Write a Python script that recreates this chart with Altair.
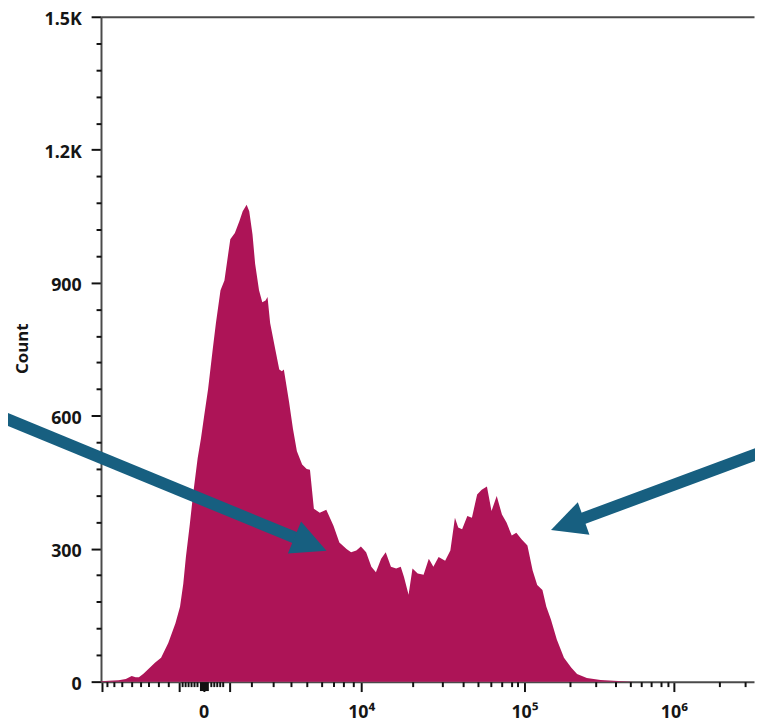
import altair as alt
import pandas as pd

# ---- histogram profile (display channel 0-1000 on a biexponential axis, cell count) ----
channel = [0, 12, 27, 38, 47, 53, 58, 65, 73, 83, 92, 103, 114, 121, 126, 130, 136, 141, 148, 153,
           158, 164, 171, 176, 183, 189, 194, 198, 205, 212, 217, 223, 227, 232, 236, 242, 247, 252,
           255, 259, 267, 273, 277, 280, 288, 294, 300, 308, 315, 320, 326, 335, 345, 356, 365, 376,
           383, 391, 398, 406, 414, 421, 429, 436, 444, 452, 459, 464, 471, 477, 485, 494, 502, 509,
           517, 527, 535, 542, 547, 553, 561, 568, 576, 583, 591, 598, 606, 614, 621, 629, 636, 644,
           653, 661, 668, 676, 682, 689, 698, 709, 720, 729, 744, 765, 785, 815, 1000]
count = [1, 2, 3, 6, 13, 10, 10, 18, 29, 43, 54, 87, 132, 169, 221, 281, 355, 422, 504, 548,
         600, 660, 749, 809, 883, 905, 957, 998, 1012, 1039, 1061, 1076, 1061, 1009, 943, 883, 856, 860,
         868, 809, 749, 704, 700, 704, 631, 570, 520, 490, 480, 478, 390, 381, 388, 352, 314, 299,
         292, 296, 305, 292, 259, 247, 277, 292, 259, 255, 259, 236, 196, 255, 244, 241, 277, 259,
         281, 273, 296, 370, 348, 344, 374, 370, 422, 433, 440, 385, 419, 377, 359, 330, 336, 321,
         307, 251, 218, 207, 169, 140, 95, 54, 32, 17, 8, 4, 2, 0, 0]

# ---- x axis (biexponential) tick positions in display channel units ----
x_major = [1.1, 119.2, 157.1, 196.5, 398.5, 648.5, 877.3]
x_major_labels = ["", "", "0", "", "10⁴", "10⁵", "10⁶"]
x_minor = [9.1, 19.7, 31.8, 47.0, 60.6, 72.7, 87.9, 103.0,
           124.2, 128.8, 133.3, 137.9, 142.4, 147.0, 168.6, 173.2, 177.7, 182.3, 186.8,
           230.3, 263.6, 290.9, 315.2, 337.9, 356.1, 371.2, 386.4,
           476.8, 522.3, 554.5, 577.3, 597.0, 613.2, 628.3, 637.9,
           717.7, 757.6, 787.4, 810.2, 826.8, 842.4, 857.6, 868.2,
           946.5, 986.8]
x_zero = [157.1]

# ---- y axis ----
y_major = [0, 300, 600, 900, 1200, 1500]
y_major_labels = ["0", "300", "600", "900", "1.2K", "1.5K"]
y_minor = [60, 120, 180, 240, 360, 420, 480, 540, 660, 720, 780, 840,
           960, 1020, 1080, 1140, 1260, 1320, 1380, 1440]

# ---- annotation arrows (data units: channel, count) ----
arrow_x_start = [-169.7, 1012.0]
arrow_y_start = [608.0, 518.0]
arrow_x_tip = [320.8, 714.1]
arrow_y_tip = [310.3, 355.1]
arrow_angle = [22.4, 160.4]

FILL = "#AD1457"
ARROW = "#175F80"
FONT = "Noto Sans"


def label_expr(vals, labels):
    expr = "''"
    for v, lab in reversed(list(zip(vals, labels))):
        expr = f"abs(datum.value - {v}) < 0.01 ? '{lab}' : ({expr})"
    return expr


hist = pd.DataFrame({"channel": channel, "count": count})
arrows = pd.DataFrame({"x": arrow_x_start, "y": arrow_y_start,
                       "x2": arrow_x_tip, "y2": arrow_y_tip, "angle": arrow_angle})

xscale = alt.Scale(domain=[0, 1000], nice=False, zero=False)
yscale = alt.Scale(domain=[0, 1500], nice=False, zero=False)

common = dict(domainColor="#4a4a4a", domainWidth=2, tickColor="#111111", tickWidth=2,
              zindex=0, grid=False)

area = alt.Chart(hist).mark_area(color=FILL, interpolate="linear", opacity=1).encode(
    x=alt.X("channel:Q", scale=xscale,
            axis=alt.Axis(orient="bottom", values=x_major, labelExpr=label_expr(x_major, x_major_labels),
                          tickSize=10, labelFont=FONT, labelFontSize=18, labelFontWeight="bold",
                          labelColor="#151515", labelPadding=12, labelFlush=False, labelOverlap=False,
                          labelBound=False, title=None, **common)),
    y=alt.Y("count:Q", scale=yscale,
            axis=alt.Axis(orient="left", values=y_major, labelExpr=label_expr(y_major, y_major_labels),
                          tickSize=10, labelFont=FONT, labelFontSize=18, labelFontWeight="bold",
                          labelColor="#151515", labelPadding=10, labelOverlap=False, labelOffset=3,
                          title="Count", titleFont=FONT, titleFontSize=17, titleFontWeight="bold",
                          titleColor="#151515", titleX=-79, titleY=335, titleAngle=270,
                          titleAlign="center", titleBaseline="middle", **common)),
)

minor = alt.Chart(hist).mark_point(opacity=0).encode(
    x=alt.X("channel:Q", scale=xscale,
            axis=alt.Axis(orient="bottom", values=x_minor, tickSize=5, labels=False,
                          domain=False, title=None, **common)),
    y=alt.Y("count:Q", scale=yscale,
            axis=alt.Axis(orient="left", values=y_minor, tickSize=5, labels=False,
                          domain=False, title=None, **common)),
)

top = alt.Chart(hist).mark_point(opacity=0).encode(
    x=alt.X("channel:Q", scale=xscale,
            axis=alt.Axis(orient="top", ticks=False, labels=False, domain=True,
                          title=None, **common)),
    y=alt.Y("count:Q", scale=yscale, axis=None),
)

zero_common = dict(common)
zero_common["tickWidth"] = 9
zero_block = alt.Chart(hist).mark_point(opacity=0).encode(
    x=alt.X("channel:Q", scale=xscale,
            axis=alt.Axis(orient="bottom", values=x_zero, tickSize=9, labels=False,
                          domain=False, title=None, **zero_common)),
    y=alt.Y("count:Q", scale=yscale, axis=None),
)

shaft = alt.Chart(arrows).mark_rule(color=ARROW, strokeWidth=12, strokeCap="butt").encode(
    x=alt.X("x:Q", scale=xscale, axis=None),
    y=alt.Y("y:Q", scale=yscale, axis=None),
    x2="x2:Q",
    y2="y2:Q",
)

head = alt.Chart(arrows).mark_point(shape="M-1,-1L1,0L-1,1Z", filled=True, size=1225,
                                    color=ARROW, opacity=1, strokeWidth=0).encode(
    x=alt.X("x2:Q", scale=xscale, axis=None),
    y=alt.Y("y2:Q", scale=yscale, axis=None),
    angle=alt.Angle("angle:Q", scale=None),
)

chart = alt.layer(area, minor, top, zero_block, shaft, head).resolve_axis(
    x="independent", y="independent"
).properties(
    width=660, height=672,
    padding={"left": 94, "top": 5, "right": 1, "bottom": 45},
    autosize=alt.AutoSizeParams(type="none"),
    background="white",
).configure_view(stroke=None)

chart.save("out.html", embed_options={"renderer": "svg", "actions": False})
